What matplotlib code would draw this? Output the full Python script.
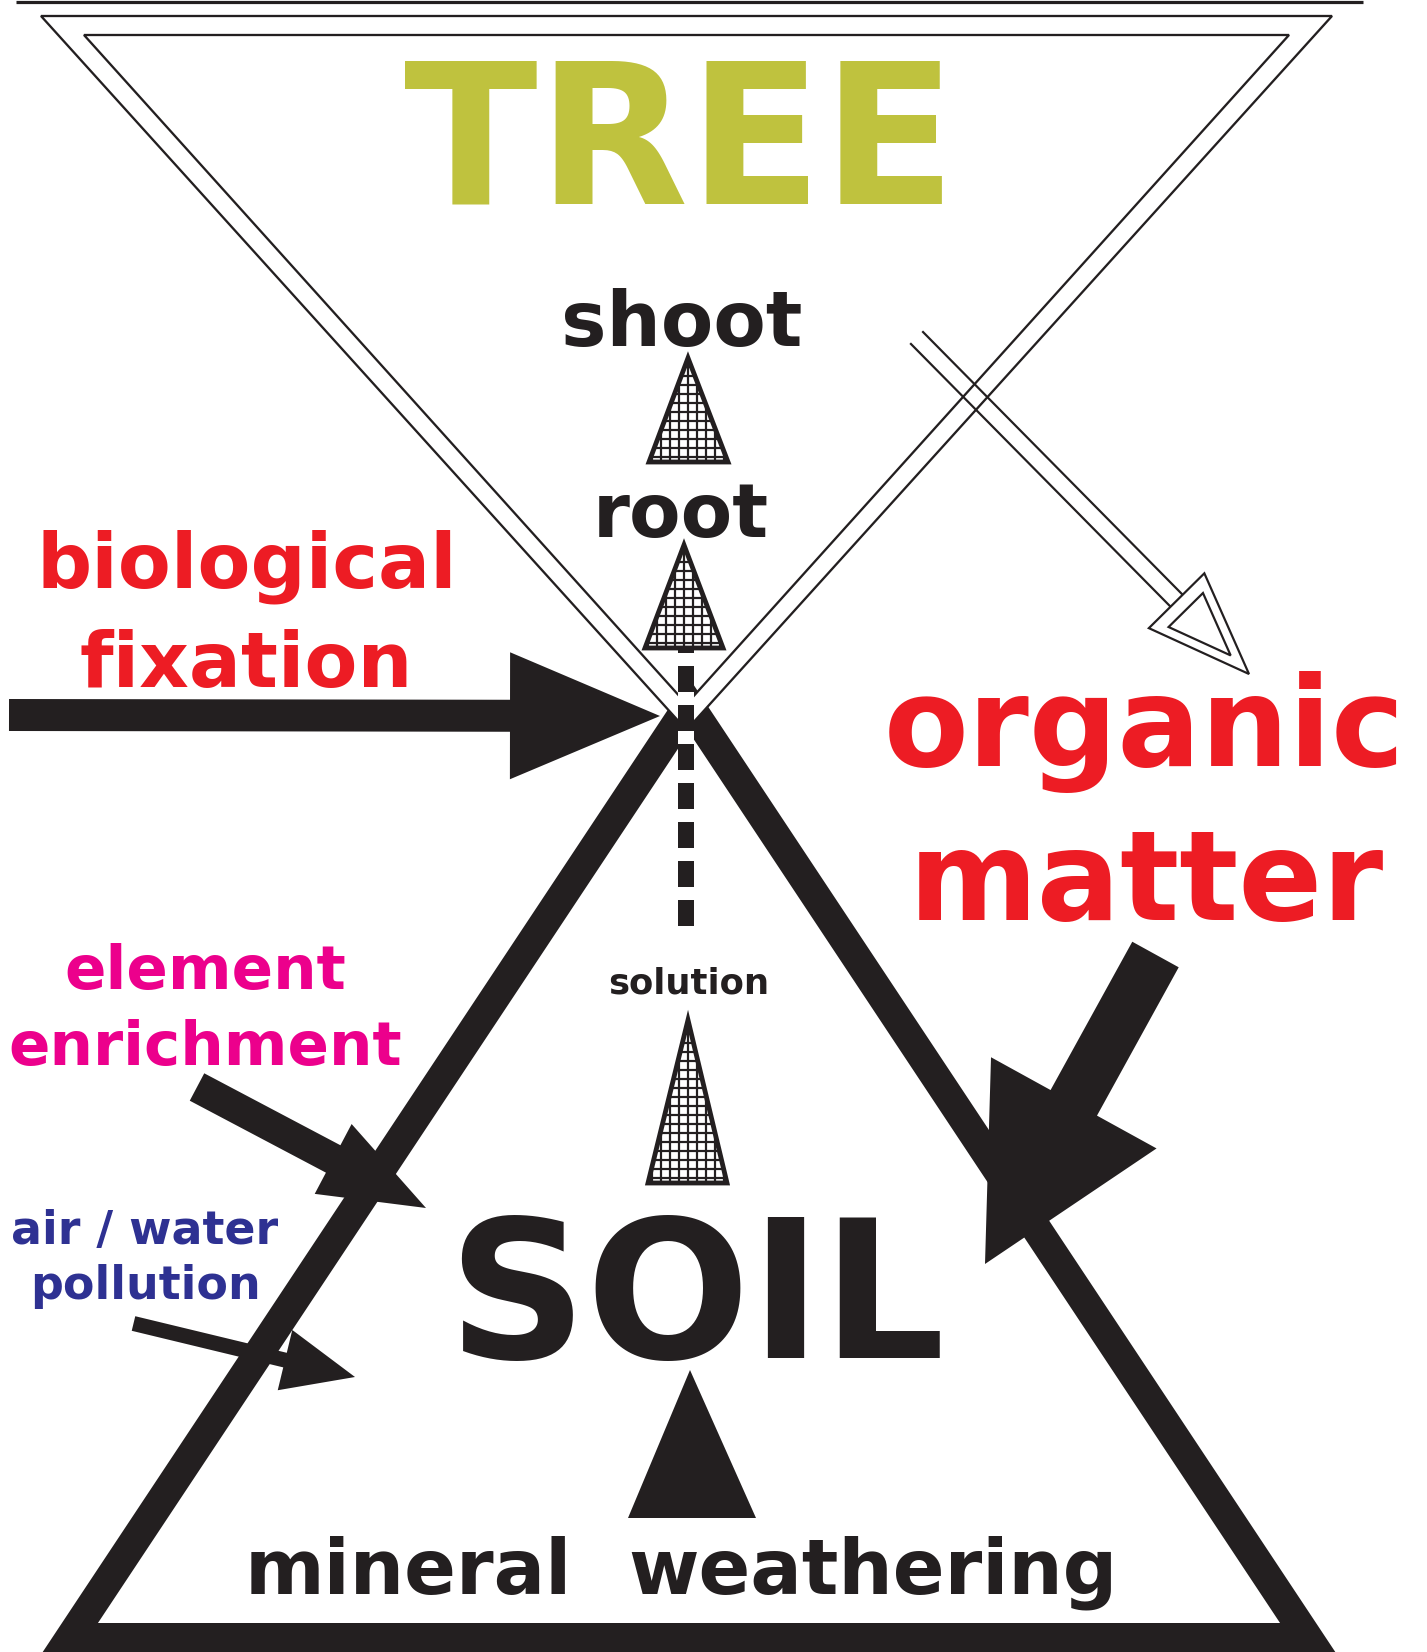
import numpy as np
import matplotlib
matplotlib.use("Agg")
import matplotlib.pyplot as plt
from matplotlib.patches import Polygon, Rectangle, PathPatch
from matplotlib.path import Path

plt.rcParams['font.family'] = ['DejaVu Sans']

W, H = 1427, 1652
INK = '#231F20'
RED = '#ED1C24'
MAGENTA = '#EC008C'
BLUE = '#2E3192'
OLIVE = '#BFC23E'

# ---------------- diagram data (pixel space of the picture) ----------------
labels = ['TREE', 'shoot', 'root', 'biological', 'fixation', 'organic', 'matter',
          'element', 'enrichment', 'air / water', 'pollution', 'solution', 'SOIL',
          'mineral', 'weathering']
label_x = [680, 682, 681, 247, 246, 1144, 1146, 205, 205, 145, 145, 689, 696, 408, 873]
label_y = [203, 346, 537, 588, 687, 766, 920, 989, 1065, 1244, 1299, 993, 1358, 1594, 1594]
label_size = [141, 55, 54, 55.5, 55.5, 89, 89, 44, 44, 33, 33, 25.5, 139, 55, 55]
label_color = [OLIVE, INK, INK, RED, RED, RED, RED, MAGENTA, MAGENTA, BLUE, BLUE,
               INK, INK, INK, INK]

# tree (inverted) double triangle
tree_outer = [(41, 16), (1332, 16), (686.5, 730)]
tree_inner = [(84, 35), (1289, 35), (686.5, 704)]
top_rule = [(16, 1363), (1.5, 1.5)]

# soil triangle (centre line of thick stroke)
soil_tri = [(689, 705), (1308, 1638), (70, 1638)]
soil_lw_px = 30

# hatched flow triangles (apex, base-left, base-right)
flow_tris = [
    [(688, 358), (649, 462), (728, 462)],
    [(684, 545), (645, 648), (723, 648)],
    [(688, 1020), (648, 1183), (727, 1183)],
]
grid_step = 9.0

# dashed connector
dash_x = 686
dash_w = 16
dash_tops = [645, 666, 705, 744, 783, 822, 861, 900]
dash_bottoms = [653, 692, 731, 770, 809, 848, 887, 926]

# solid arrows: tail, tip, shaft width, head width, head length
arrows = {
    'fixation': ((9, 715), (660, 716), 32, 127, 150),
    'organic': ((1155.5, 954.5), (985, 1264), 53, 189, 184),
    'enrichment': ((197, 1087), (426, 1208), 31, 79, 105),
    'pollution': ((133.5, 1323.5), (355, 1377), 15, 62, 72),
}
# open (outline) arrow for organic matter return
open_arrow = ((917, 338), (1249, 674), 17, 78, 103)

# mineral weathering arrowhead
weather_tri = [(690, 1370), (628, 1518), (756, 1518)]

# ---------------- helpers ----------------
def arrow_poly(tail, tip, w, hw, hl):
    t = np.array(tail, float)
    p = np.array(tip, float)
    d = p - t
    L = np.hypot(*d)
    u = d / L
    n = np.array([-u[1], u[0]])
    b = p - u * hl
    return [t + n * w / 2, b + n * w / 2, b + n * hw / 2, p,
            b - n * hw / 2, b - n * w / 2, t - n * w / 2]

px2pt = 72.0 / 100.0

fig = plt.figure(figsize=(W / 100, H / 100), dpi=100)
ax = fig.add_axes([0, 0, 1, 1])
ax.set_xlim(0, W)
ax.set_ylim(H, 0)
ax.axis('off')

# top rule
ax.plot(top_rule[0], top_rule[1], color=INK, lw=3.2 * px2pt, solid_capstyle='butt', zorder=1)

# soil triangle
ax.add_patch(Polygon(soil_tri, closed=True, fill=False, edgecolor=INK,
                     lw=soil_lw_px * px2pt, joinstyle='miter', zorder=2))

# tree double triangle: white band between the two outlines
outer = list(tree_outer) + [tree_outer[0]]
inner = list(tree_inner)[::-1] + [tree_inner[-1]]
verts = outer + inner
codes = ([Path.MOVETO] + [Path.LINETO] * 2 + [Path.CLOSEPOLY]) * 2
band = Path(verts, codes)
ax.add_patch(PathPatch(band, facecolor='white', edgecolor='none', zorder=2.5))
for tri in (tree_outer, tree_inner):
    ax.add_patch(Polygon(tri, closed=True, fill=False, edgecolor=INK,
                         lw=2.3 * px2pt, joinstyle='miter', zorder=2.6))

# dashed connector
ax.add_patch(Rectangle((dash_x - dash_w / 2, dash_tops[0]), dash_w,
                       dash_bottoms[-1] - dash_tops[0], facecolor='white',
                       edgecolor='none', zorder=3))
for y0, y1 in zip(dash_tops, dash_bottoms):
    ax.add_patch(Rectangle((dash_x - dash_w / 2, y0), dash_w, y1 - y0,
                           facecolor=INK, edgecolor='none', zorder=3.1))

# hatched (grid) triangles
for tri in flow_tris:
    arr = np.array(tri)
    bg = Polygon(tri, closed=True, facecolor='white', edgecolor='none', zorder=4)
    ax.add_patch(bg)
    x0, x1 = arr[:, 0].min(), arr[:, 0].max()
    y0, y1 = arr[:, 1].min(), arr[:, 1].max()
    xc = arr[0, 0]
    xs = np.concatenate([np.arange(xc, x0 - 1, -grid_step), np.arange(xc + grid_step, x1 + 1, grid_step)])
    ys = np.arange(y1 - grid_step * 0.6, y0, -grid_step)
    for x in xs:
        ln, = ax.plot([x, x], [y0, y1], color=INK, lw=2.2 * px2pt, zorder=4.1)
        ln.set_clip_path(bg)
    for y in ys:
        ln, = ax.plot([x0, x1], [y, y], color=INK, lw=2.2 * px2pt, zorder=4.1)
        ln.set_clip_path(bg)
    ax.add_patch(Polygon(tri, closed=True, fill=False, edgecolor=INK,
                         lw=4.8 * px2pt, joinstyle='miter', zorder=4.2))

# solid arrows
for key, (tail, tip, w, hw, hl) in arrows.items():
    ax.add_patch(Polygon(arrow_poly(tail, tip, w, hw, hl), closed=True,
                         facecolor=INK, edgecolor='none', zorder=5))

# open arrow
tail, tip, w, hw, hl = open_arrow
pts = arrow_poly(tail, tip, w, hw, hl)
lw_open = 2.2 * px2pt
ax.plot([pts[0][0], pts[1][0]], [pts[0][1], pts[1][1]], color=INK, lw=lw_open, zorder=5)
ax.plot([pts[6][0], pts[5][0]], [pts[6][1], pts[5][1]], color=INK, lw=lw_open, zorder=5)
head = np.array([pts[2], pts[3], pts[4]])
ax.add_patch(Polygon(head, closed=True, facecolor='white', edgecolor=INK, lw=lw_open,
                     joinstyle='miter', zorder=5))
c = head.mean(axis=0)
ax.add_patch(Polygon(c + 0.62 * (head - c), closed=True, fill=False, edgecolor=INK,
                     lw=lw_open, joinstyle='miter', zorder=5))

# weathering arrowhead
ax.add_patch(Polygon(weather_tri, closed=True, facecolor=INK, edgecolor='none', zorder=5))

# labels
for s, x, y, fs, col in zip(labels, label_x, label_y, label_size, label_color):
    ax.text(x, y, s, ha='center', va='baseline', fontsize=fs, color=col,
            fontweight='bold', zorder=6)

fig.savefig('out.png', dpi=100, facecolor='white')
